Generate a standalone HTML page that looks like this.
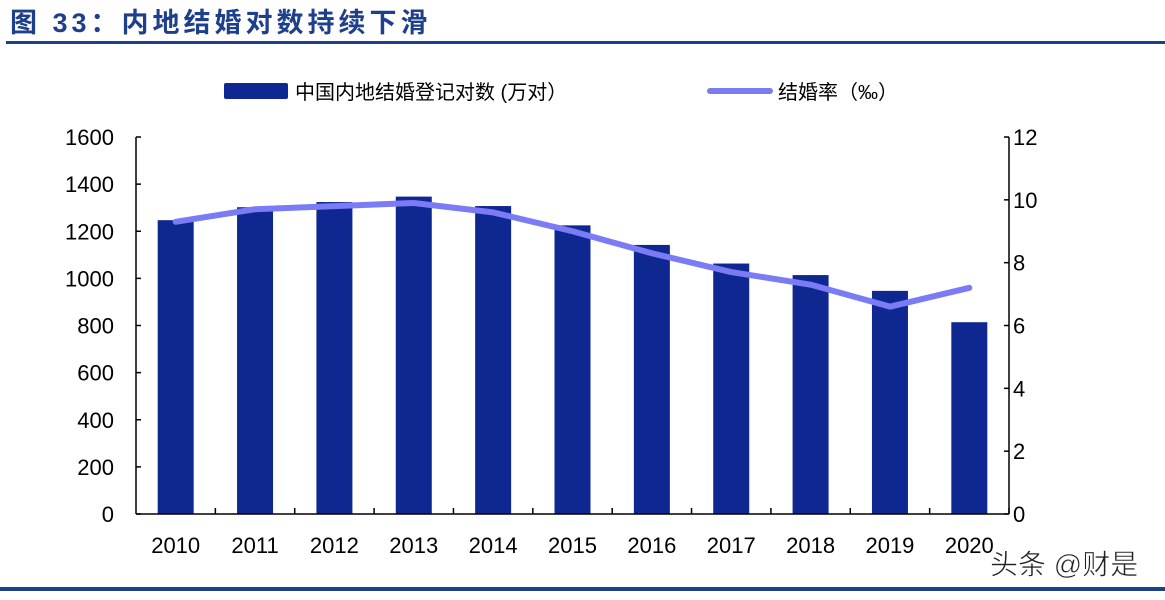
<!DOCTYPE html>
<html><head><meta charset="utf-8"><style>
body{margin:0;background:#fff;width:1165px;height:595px;overflow:hidden}
</style></head><body>
<svg width="1165" height="595" xmlns="http://www.w3.org/2000/svg" font-family="'Liberation Sans','Noto Sans CJK SC',sans-serif">
<text x="10" y="32" font-size="27" font-weight="bold" fill="#1e3f8c" letter-spacing="4" font-family="'Liberation Sans','Noto Sans CJK SC',sans-serif">图 33：内地结婚对数持续下滑</text>
<rect x="6" y="41" width="1159" height="3" fill="#1e3f8c"/>
<rect x="0" y="587" width="1165" height="4" fill="#1e3f8c"/>
<rect x="224" y="83" width="64" height="16" rx="2" fill="#0f2891"/>
<text x="295" y="99" font-size="20" fill="#000">中国内地结婚登记对数 (万对）</text>
<line x1="710" y1="91" x2="770" y2="91" stroke="#7b7bf5" stroke-width="6" stroke-linecap="round"/>
<text x="778" y="99" font-size="20" fill="#000">结婚率（‰）</text>
<g id="bars" fill="#0f2891"></g>
<g stroke="#000" stroke-width="1.5" fill="none">
<line x1="136" y1="137" x2="136" y2="514"/>
<line x1="1009" y1="137" x2="1009" y2="514"/>
<line x1="136" y1="514" x2="1009" y2="514"/>
</g>
<g id="ticks" stroke="#000" stroke-width="1.5"></g>
<g id="lab" font-size="22" fill="#000"></g>
<polyline id="ln" fill="none" stroke="#7b7bf5" stroke-width="6" stroke-linejoin="round" stroke-linecap="round"/>
<text x="990" y="574" font-size="28" fill="#222" stroke="#fff" stroke-width="0.6">头条 @财是</text>
</svg>
<script>
var ns="http://www.w3.org/2000/svg";
function el(t,a,p,txt){var e=document.createElementNS(ns,t);for(var k in a)e.setAttribute(k,a[k]);if(txt!=null)e.textContent=txt;document.getElementById(p).appendChild(e);return e;}
var v=[1247,1302,1324,1347,1307,1225,1142,1063,1014,947,814];
var r=[9.3,9.7,9.8,9.9,9.6,9.0,8.3,7.7,7.3,6.6,7.2];
var y0=514,h=377,cw=(1009-136)/11,pts=[];
for(var i=0;i<11;i++){var c=136+cw*(i+0.5);var y=y0-v[i]/1600*h;
el('rect',{x:c-18,y:y,width:36,height:y0-y},'bars');
pts.push(c+','+(y0-r[i]/12*h));
el('text',{x:c,y:553,'text-anchor':'middle'},'lab',String(2010+i));
var tx=136+cw*(i+1);el('line',{x1:tx,y1:y0,x2:tx,y2:y0-6},'ticks');}
document.getElementById('ln').setAttribute('points',pts.join(' '));
for(var j=0;j<=8;j++){var y=y0-j*h/8;el('text',{x:114,y:y+8,'text-anchor':'end'},'lab',String(j*200));
el('line',{x1:136,y1:y,x2:141,y2:y},'ticks');}
for(var j=0;j<=6;j++){var y=y0-j*h/6;el('text',{x:1013,y:y+8},'lab',String(j*2));
el('line',{x1:1004,y1:y,x2:1009,y2:y},'ticks');}
</script>
</body></html>
